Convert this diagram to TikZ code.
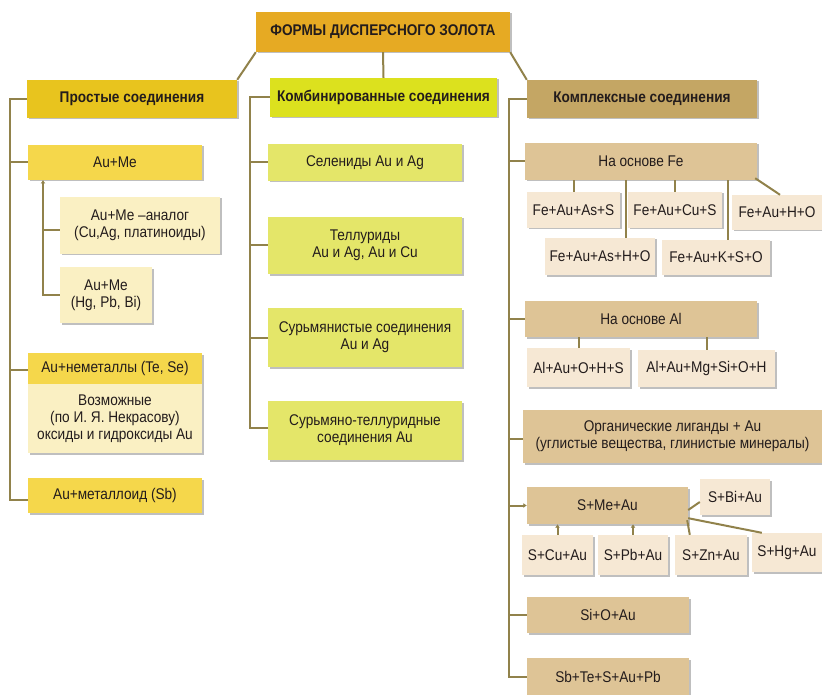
\documentclass[tikz,border=0pt]{standalone}
\usepackage{fontspec}
\setmainfont[FakeStretch=0.88]{Liberation Sans}
\usetikzlibrary{shadows,arrows.meta}
\definecolor{txt}{RGB}{35,28,28}
\definecolor{linec}{RGB}{145,130,75}
\definecolor{ctitle}{RGB}{230,170,35}
\definecolor{cprost}{RGB}{232,196,30}
\definecolor{cyel}{RGB}{245,215,75}
\definecolor{cpale}{RGB}{250,240,195}
\definecolor{ckomb}{RGB}{220,225,30}
\definecolor{clime}{RGB}{228,230,105}
\definecolor{ckompl}{RGB}{196,166,100}
\definecolor{ctan}{RGB}{222,196,150}
\definecolor{ctanpale}{RGB}{246,232,212}
\begin{document}
\begin{tikzpicture}[x=1pt,y=-1pt,
  box/.style={rectangle, draw=none, inner sep=1pt, align=center, text=txt,
    font=\fontsize{15.5}{17}\selectfont,
    drop shadow={shadow xshift=1.5pt,shadow yshift=-1.5pt,opacity=0.25,fill=black}},
  hbox/.style={box, font=\fontsize{15.5}{17}\selectfont\bfseries},
  conn/.style={draw=linec, line width=2pt},
  tip/.style={conn, -{Latex[length=3.5pt,width=5pt]}}]
\useasboundingbox (0,0) rectangle (822,695);

% top level
\node[hbox, fill=ctitle, minimum width=254pt, minimum height=40pt] (title) at (383,32) {ФОРМЫ ДИСПЕРСНОГО ЗОЛОТА};
\node[hbox, fill=cprost, minimum width=210pt, minimum height=38pt] (prost) at (132,99) {Простые соединения};
\node[hbox, fill=ckomb, minimum width=227pt, minimum height=39pt] (komb) at (383.5,97.5) {Комбинированные соединения};
\node[hbox, fill=ckompl, minimum width=230pt, minimum height=38pt] (kompl) at (642,99) {Комплексные соединения};

\draw[conn] (title.south west) -- (prost.north east);
\draw[conn] (title.south) -- (komb.north);
\draw[conn] (title.south east) -- (kompl.north west);

% left column
\node[box, fill=cyel, minimum width=174pt, minimum height=35pt] (aume) at (115,162.5) {Au+Me};
\node[box, fill=cpale, minimum width=160pt, minimum height=57pt] (analog) at (140,225.5) {Au+Me –аналог\\(Cu,Ag, платиноиды)};
\node[box, fill=cpale, minimum width=92pt, minimum height=56pt] (hg) at (106,295) {Au+Me\\(Hg, Pb, Bi)};
\node[box, fill=cyel, minimum width=174pt, minimum height=31pt] (nemet) at (115,368.5) {Au+неметаллы (Te, Se)};
\node[box, fill=cpale, minimum width=174pt, minimum height=69pt] (vozm) at (115,418.5) {Возможные\\(по И. Я. Некрасову)\\оксиды и гидроксиды Au};
\node[box, fill=cyel, minimum width=174pt, minimum height=35pt] (metal) at (115,495.5) {Au+металлоид (Sb)};

\coordinate (Ltop) at (10,99);
\coordinate (Lbot) at (10,500);
\draw[conn] (prost.west) -- (Ltop) -- (Lbot) -- (Lbot -| metal.west);
\draw[conn] (aume.west) -- (aume.west -| Ltop);
\draw[conn] ([yshift=-1.5pt]nemet.west) -- ([yshift=-1.5pt]nemet.west -| Ltop);

\coordinate (Stop) at (43,180);
\coordinate (Sbot) at (43,295);
\draw[tip] (hg.west) -- (Sbot) -- (Stop);
\draw[conn] ([yshift=-4.5pt]analog.west) -- ([yshift=-4.5pt]analog.west -| Stop);

% middle column
\node[box, fill=clime, minimum width=194pt, minimum height=37pt] (sel) at (365,162.5) {Селениды Au и Ag};
\node[box, fill=clime, minimum width=194pt, minimum height=57pt] (tell) at (365,245.5) {Теллуриды\\Au и Ag, Au и Cu};
\node[box, fill=clime, minimum width=194pt, minimum height=59pt] (sur) at (365,337.5) {Сурьмянистые соединения\\Au и Ag};
\node[box, fill=clime, minimum width=194pt, minimum height=59pt] (surte) at (365,430.5) {Сурьмяно-теллуридные\\соединения  Au};

\coordinate (Mtop) at (250,97.5);
\coordinate (Mbot) at (250,428);
\draw[conn] (komb.west) -- (Mtop) -- (Mbot) -- (Mbot -| surte.west);
\draw[conn] (sel.west) -- (sel.west -| Mtop);
\draw[conn] (tell.west) -- (tell.west -| Mtop);
\draw[conn] (sur.west) -- (sur.west -| Mtop);

% right column
\node[box, fill=ctan, minimum width=232pt, minimum height=37pt] (fe) at (641,161.5) {На основе Fe};
\node[box, fill=ctanpale, minimum width=93pt, minimum height=36pt] (f1) at (573.5,210) {Fe+Au+As+S};
\node[box, fill=ctanpale, minimum width=94pt, minimum height=36pt] (f2) at (675,210) {Fe+Au+Cu+S};
\node[box, fill=ctanpale, minimum width=90pt, minimum height=35pt] (f3) at (777,212.5) {Fe+Au+H+O};
\node[box, fill=ctanpale, minimum width=110pt, minimum height=37pt] (f4) at (600,256.5) {Fe+Au+As+H+O};
\node[box, fill=ctanpale, minimum width=108pt, minimum height=35pt] (f5) at (716,257.5) {Fe+Au+K+S+O};

\draw[conn] (f1.north) -- (f1.north |- fe.south);
\draw[conn] (f2.north) -- (f2.north |- fe.south);
\draw[conn] ([xshift=26pt]f4.north) -- ([xshift=26pt]f4.north |- fe.south);
\draw[conn] ([xshift=12pt]f5.north) -- ([xshift=12pt]f5.north |- fe.south);
\draw[conn] ([shift={(-2pt,2pt)}]fe.south east) -- ([xshift=3pt]f3.north);

\node[box, fill=ctan, minimum width=232pt, minimum height=36pt] (al) at (641,319) {На основе Al};
\node[box, fill=ctanpale, minimum width=103pt, minimum height=39pt] (a1) at (578.5,367.5) {Al+Au+O+H+S};
\node[box, fill=ctanpale, minimum width=137pt, minimum height=37pt] (a2) at (706.5,368.5) {Al+Au+Mg+Si+O+H};
\draw[conn] (a1.north) -- (a1.north |- al.south);
\draw[conn] (a2.north) -- (a2.north |- al.south);

\node[box, fill=ctan, minimum width=299pt, minimum height=53pt] (org) at (672.5,436.5) {Органические лиганды + Au\\(углистые вещества, глинистые минералы)};

\node[box, fill=ctan, minimum width=161pt, minimum height=37pt] (sme) at (607.5,505.5) {S+Me+Au};
\node[box, fill=ctanpale, minimum width=70pt, minimum height=36pt] (sbi) at (735,497) {S+Bi+Au};
\node[box, fill=ctanpale, minimum width=71pt, minimum height=40pt] (s1) at (557.5,555) {S+Cu+Au};
\node[box, fill=ctanpale, minimum width=70pt, minimum height=40pt] (s2) at (633,555) {S+Pb+Au};
\node[box, fill=ctanpale, minimum width=72pt, minimum height=40pt] (s3) at (711,555) {S+Zn+Au};
\node[box, fill=ctanpale, minimum width=70pt, minimum height=39pt] (s4) at (787,552.5) {S+Hg+Au};

\draw[tip] (s1.north) -- (s1.north |- sme.south);
\draw[tip] (s2.north) -- (s2.north |- sme.south);
\draw[conn] ([yshift=-4.5pt]sme.east) -- ([yshift=-5pt]sbi.west);
\draw[conn] ([shift={(-1pt,4pt)}]sme.south east) -- ([xshift=15pt]s3.north west);
\draw[conn] ([yshift=6pt]sme.south east) -- ([xshift=10pt]s4.north west);

\node[box, fill=ctan, minimum width=162pt, minimum height=36pt] (si) at (608,615) {Si+O+Au};
\node[box, fill=ctan, minimum width=162pt, minimum height=37pt] (sb) at (608,676.5) {Sb+Te+S+Au+Pb};

\coordinate (Rtop) at (509,99);
\coordinate (Rbot) at (509,676.5);
\draw[conn] (kompl.west) -- (Rtop) -- (Rbot) -- (sb.west);
\draw[conn] (fe.west) -- (fe.west -| Rtop);
\draw[conn] (al.west) -- (al.west -| Rtop);
\draw[conn] ([yshift=-2.5pt]org.west) -- ([yshift=-2.5pt]org.west -| Rtop);
\draw[tip] (sme.west -| Rtop) -- (sme.west);
\draw[conn] (si.west) -- (si.west -| Rtop);
\end{tikzpicture}
\end{document}
